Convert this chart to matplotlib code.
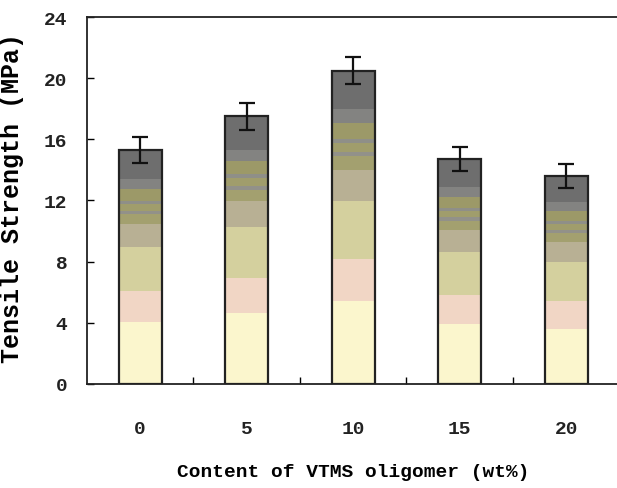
import matplotlib
matplotlib.use("Agg")
import matplotlib.pyplot as plt

# VTMS oligomer content (wt%) vs tensile strength
contents = ["0", "5", "10", "15", "20"]
strength = [15.3, 17.5, 20.5, 14.7, 13.6]
errors = [0.85, 0.9, 0.9, 0.8, 0.8]

# gradient bands inside each bar: (fraction of bar height from bottom, colour)
band_stops = [0.0, 0.265, 0.397, 0.585, 0.684, 0.726, 0.741, 0.769, 0.783, 0.833, 0.876, 1.0]
band_colors = ["#fbf6cd", "#f1d6c5", "#d4d09e", "#b8b094", "#a3a06f", "#929189",
               "#a09d6c", "#8f8f88", "#9c9968", "#838381", "#6e6e6e"]

plt.rcParams["font.family"] = ["Liberation Mono", "DejaVu Sans Mono"]
plt.rcParams["font.weight"] = "bold"
plt.rcParams["axes.labelweight"] = "bold"
plt.rcParams["text.color"] = "#222222"
plt.rcParams["xtick.labelcolor"] = "#222222"
plt.rcParams["ytick.labelcolor"] = "#222222"

fig = plt.figure(figsize=(6.17, 4.89), dpi=100)
ax = fig.add_axes([0.141, 0.213, 0.863, 0.75])

x = list(range(len(contents)))
width = 0.4
for lo, hi, col in zip(band_stops[:-1], band_stops[1:], band_colors):
    ax.bar(x, [v * (hi - lo) for v in strength], width,
           bottom=[v * lo for v in strength], color=col, linewidth=0)
ax.bar(x, strength, width, fill=False, edgecolor="#222222", linewidth=1.6)
ax.errorbar(x, strength, yerr=errors, fmt="none", ecolor="#111111",
            elinewidth=1.6, capsize=6, capthick=1.6)

ax.set_xlim(-0.5, 4.5)
ax.set_ylim(0, 24)
ax.set_yticks([0, 4, 8, 12, 16, 20, 24])
ax.set_xticks(x)
ax.set_xticklabels(contents)
ax.set_xticks([0.5, 1.5, 2.5, 3.5], minor=True)

ax.tick_params(axis="y", direction="in", length=5, width=1, pad=14, labelsize=14)
ax.tick_params(axis="x", which="major", length=0, pad=26, labelsize=14)
ax.tick_params(axis="x", which="minor", direction="in", length=5, width=1)

for side in ["left", "bottom", "top"]:
    ax.spines[side].set_linewidth(1.3)
    ax.spines[side].set_color("#222222")
ax.spines["right"].set_visible(False)

ax.set_xlabel("Content of VTMS oligomer (wt%)", fontsize=14, labelpad=19)
ax.set_ylabel("Tensile Strength (MPa)", fontsize=18)
ax.yaxis.set_label_coords(-0.118, 0.51)

fig.savefig("out.png", dpi=100)
